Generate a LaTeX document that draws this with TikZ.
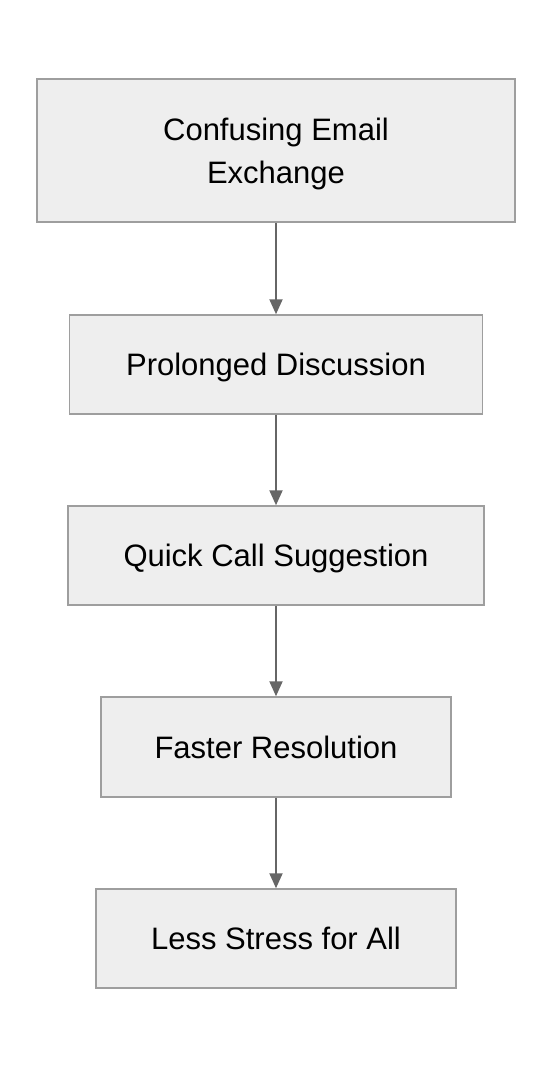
\documentclass[tikz,border=0pt]{standalone}
\usepackage{fontspec}
\setmainfont{Liberation Sans}
\usetikzlibrary{arrows.meta}
\definecolor{boxfill}{HTML}{EEEEEE}
\definecolor{boxline}{HTML}{9E9E9E}
\definecolor{arrowline}{HTML}{666666}
\begin{document}
\begin{tikzpicture}[x=1pt,y=-1pt,
  every node/.style={draw=boxline,fill=boxfill,line width=1.5pt,inner sep=0pt,
    align=center,text height=22pt,text depth=0pt,font=\fontsize{31}{43}\selectfont},
  flow/.style={draw=arrowline,line width=2pt,-{Triangle[width=13pt,length=15pt]}}]
  \useasboundingbox (0,0) rectangle (552,1068);
  \node[minimum width=478pt,minimum height=143pt,text height=65pt] (s1) at (276,150.5) {Confusing Email\\Exchange};
  \node[minimum width=413pt,minimum height=99pt] (s2) at (276,364.5) {Prolonged Discussion};
  \node[minimum width=416pt,minimum height=99pt] (s3) at (276,555.5) {Quick Call Suggestion};
  \node[minimum width=350pt,minimum height=100pt] (s4) at (276,747) {Faster Resolution};
  \node[minimum width=360pt,minimum height=99pt] (s5) at (276,938.5) {Less Stress for All};

  \foreach \i/\j in {1/2,2/3,3/4,4/5}{\draw[flow] (s\i) -- (s\j);}
\end{tikzpicture}
\end{document}
